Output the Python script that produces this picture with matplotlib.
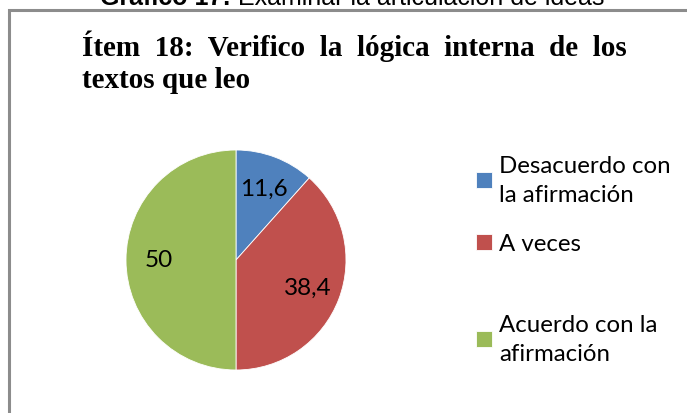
from matplotlib import pyplot as plt
from matplotlib.patches import Rectangle

categories = ["Desacuerdo con\nla afirmación", "A veces", "Acuerdo con la\nafirmación"]
values = [11.6, 38.4, 50]
value_labels = ["11,6", "38,4", "50"]
colors = ["#4F81BD", "#C0504D", "#9BBB59"]

W, H = 687, 414
fig = plt.figure(figsize=(W / 100, H / 100), dpi=100)


def fx(px):
    return px / W


def fy(py):
    return 1 - py / H


# chart box border (only top and left visible)
fig.patches.append(Rectangle((fx(9), fy(430)), fx(700), fy(11) - fy(430),
                             transform=fig.transFigure, fill=False,
                             edgecolor="#8c8c8c", linewidth=2.2, clip_on=False))

# caption above the chart, cut off by the page edge as in the original
cap1 = fig.text(fx(100), fy(5), "Gráfico 17:", fontsize=18, fontweight="bold",
                family="Liberation Sans", ha="left", va="baseline")

# title
fig.text(fx(82), fy(88), "Ítem  18:  Verifico  la  lógica  interna  de  los\ntextos que leo",
         fontsize=21, fontweight="bold", family="Liberation Serif",
         ha="left", va="baseline", linespacing=1.25)

# pie
cx, cy, r = 236, 261, 110
ax = fig.add_axes([fx(cx - r), fy(cy + r), fx(2 * r), fy(cy - r) - fy(cy + r)])
labels_iter = iter(value_labels)
wedges, _, autotexts = ax.pie(values, colors=colors, startangle=90, counterclock=False,
                              autopct=lambda p: next(labels_iter), pctdistance=0.7,
                              wedgeprops=dict(edgecolor="white", linewidth=0.6),
                              textprops=dict(fontsize=17.5, family="Lato"))
ax.set_xlim(-1, 1)
ax.set_ylim(-1, 1)
ax.axis("off")

ax.annotate(" Examinar la articulación de ideas", xy=(1, 0), xycoords=cap1,
            fontsize=18, family="Liberation Sans", ha="left", va="bottom",
            annotation_clip=False)

# legend: one entry per box, spaced like the original
legend_y = [181, 245, 340]
for w, lab, y in zip(wedges, categories, legend_y):
    leg = fig.legend([w], [lab], loc="center left", bbox_to_anchor=(fx(476), fy(y)),
                     frameon=False, prop=dict(family="Lato", size=17.3),
                     handlelength=0.67, handleheight=0.67, handletextpad=0.3,
                     borderpad=0, borderaxespad=0)
    for t in leg.get_texts():
        t.set_linespacing(1.5)
    for h in leg.legend_handles:
        h.set_edgecolor("white")

plt.savefig("out.png", dpi=100)
plt.close()
